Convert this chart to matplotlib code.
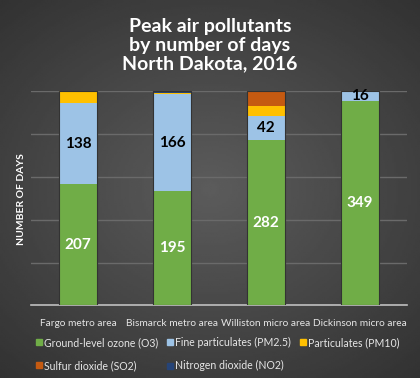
import matplotlib.pyplot as plt
import numpy as np
from matplotlib.lines import Line2D

plt.rcParams['font.family'] = ['Lato', 'DejaVu Sans']

areas = ['Fargo metro area', 'Bismarck metro area',
         'Williston micro area', 'Dickinson micro area']
series = ['Ground-level ozone (O3)', 'Fine particulates (PM2.5)',
          'Particulates (PM10)', 'Sulfur dioxide (SO2)', 'Nitrogen dioxide (NO2)']
ozone = [207, 195, 282, 349]
pm25 = [138, 166, 42, 16]
pm10 = [21, 2, 17, 0]
so2 = [0, 0, 25, 1]
no2 = [0, 3, 0, 0]
days_in_year = 366

colors = ['#70AD47', '#9DC3E6', '#FFC000', '#C55A11', '#264478']
label_colors = ['white', 'black']

fig = plt.figure(figsize=(4.2, 3.78), dpi=100)

# radial gray background, lighter in the middle
bg = fig.add_axes([0, 0, 1, 1], zorder=-10)
yy, xx = np.mgrid[-1:1:200j, -1:1:200j]
r = np.sqrt(xx ** 2 + (yy * 1.1) ** 2)
shade = np.clip(0.36 - 0.11 * r, 0, 1)
bg.imshow(shade, cmap='gray', vmin=0, vmax=1, aspect='auto',
          extent=[0, 1, 0, 1])
bg.axis('off')

ax = fig.add_axes([0.074, 0.192, 0.895, 0.567])
ax.set_facecolor('none')
x = np.arange(len(areas))
bottom = np.zeros(len(areas))
for vals, col in zip([ozone, pm25, pm10, so2, no2], colors):
    ax.bar(x, vals, 0.41, bottom=bottom, color=col, zorder=3)
    bottom += np.array(vals)
# thin shadow outline around each stack
ax.bar(x, bottom, 0.41, fill=False, edgecolor='#333333', linewidth=0.8, zorder=4)

base = np.zeros(len(areas))
for vals, tc in zip([ozone, pm25], label_colors):
    for i, v in enumerate(vals):
        ax.text(x[i], base[i] + v / 2, str(v), ha='center', va='center',
                color=tc, fontsize=11, fontweight='bold', zorder=5)
    base += np.array(vals)

ax.set_xlim(-0.5, 3.5)
ax.set_ylim(0, days_in_year)
ax.set_yticks(np.linspace(0, days_in_year, 6))
ax.set_yticklabels([])
ax.tick_params(left=False, bottom=False)
ax.grid(axis='y', color='#6a6a6a', linewidth=1, zorder=0)
for s in ['top', 'right', 'left']:
    ax.spines[s].set_visible(False)
ax.spines['bottom'].set_color('#bfbfbf')
ax.spines['bottom'].set_linewidth(1.2)
ax.set_xticks(x)
ax.set_xticklabels(areas, color='#e6e6e6', fontsize=7.3)
ax.tick_params(axis='x', pad=6)

fig.text(22 / 420, 1 - 199 / 378, 'NUMBER OF DAYS', rotation=90,
         ha='center', va='center', color='white', fontsize=7.5,
         fontweight='bold')

fig.text(0.5, 0.88, 'Peak air pollutants\nby number of days\nNorth Dakota, 2016',
         ha='center', va='center', color='white', fontsize=14,
         fontweight='bold', linespacing=1.12)

order = [0, 3, 1, 4, 2]
handles = [Line2D([], [], marker='s', linestyle='none', markersize=4.5,
                  color=colors[k]) for k in order]
fig.legend(handles, [series[k] for k in order], ncol=3,
           loc='upper left', bbox_to_anchor=(0.065, 0.128),
           frameon=False, fontsize=7.6, labelcolor='#e6e6e6',
           handletextpad=0.1, columnspacing=0.7, handlelength=0.8,
           labelspacing=1.15, borderpad=0.2)

fig.savefig('out.png', dpi=100)
